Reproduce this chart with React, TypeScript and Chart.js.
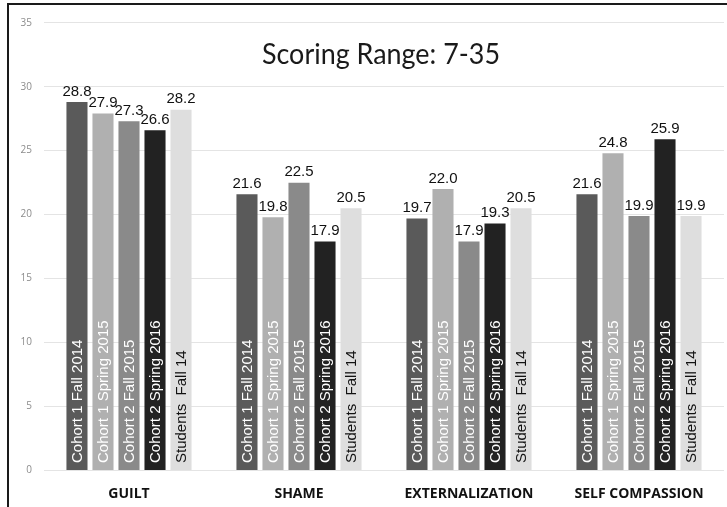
import React, { useEffect, useRef } from "react";
import { Chart, registerables } from "chart.js";

Chart.register(...registerables);

const categories = ["GUILT", "SHAME", "EXTERNALIZATION", "SELF COMPASSION"];
const seriesNames = [
  "Cohort 1 Fall 2014",
  "Cohort 1 Spring 2015",
  "Cohort 2 Fall 2015",
  "Cohort 2 Spring 2016",
  "Students  Fall 14",
];
const cohort1Fall2014 = [28.8, 21.6, 19.7, 21.6];
const cohort1Spring2015 = [27.9, 19.8, 22.0, 24.8];
const cohort2Fall2015 = [27.3, 22.5, 17.9, 19.9];
const cohort2Spring2016 = [26.6, 17.9, 19.3, 25.9];
const studentsFall14 = [28.2, 20.5, 20.5, 19.9];
const seriesValues = [
  cohort1Fall2014,
  cohort1Spring2015,
  cohort2Fall2015,
  cohort2Spring2016,
  studentsFall14,
];
const barColors = ["#5a5a5a", "#b0b0b0", "#8a8a8a", "#222222", "#dedede"];
const nameColors = ["#ffffff", "#ffffff", "#ffffff", "#ffffff", "#111111"];
const titleText = "Scoring Range: 7-35";

// Writes each series name vertically inside its bar, plus the value above it.
const barTextPlugin = {
  id: "barText",
  afterDatasetsDraw(chart: any) {
    const ctx = chart.ctx;
    chart.data.datasets.forEach((ds: any, di: number) => {
      const meta = chart.getDatasetMeta(di);
      meta.data.forEach((bar: any, i: number) => {
        const v = ds.data[i];
        // value on top
        ctx.save();
        ctx.font = "15px 'Liberation Sans', Arial, sans-serif";
        ctx.fillStyle = "#111";
        ctx.textAlign = "center";
        ctx.textBaseline = "bottom";
        ctx.fillText(v.toFixed(1), bar.x, bar.y - 3);
        ctx.restore();
        // series name inside the bar
        ctx.save();
        ctx.translate(bar.x, bar.base - 7);
        ctx.rotate(-Math.PI / 2);
        ctx.font = "15px 'Liberation Sans', Arial, sans-serif";
        ctx.fillStyle = nameColors[di];
        ctx.textAlign = "left";
        ctx.textBaseline = "middle";
        ctx.fillText(seriesNames[di], 0, 1);
        ctx.restore();
      });
    });
  },
};

// Title text placed inside the plot area.
const innerTitlePlugin = {
  id: "innerTitle",
  afterDraw(chart: any) {
    const ctx = chart.ctx;
    const { left, right } = chart.chartArea;
    const y = chart.scales.y.getPixelForValue(31.8);
    ctx.save();
    ctx.font = "28px Lato, 'Open Sans', sans-serif";
    ctx.fillStyle = "#1a1a1a";
    ctx.textAlign = "center";
    ctx.textBaseline = "alphabetic";
    ctx.fillText(titleText, (left + right) / 2 - 3, y, 238);
    ctx.restore();
  },
};

export default function App() {
  const canvasRef = useRef<HTMLCanvasElement | null>(null);

  useEffect(() => {
    if (!canvasRef.current) return;
    const chart = new Chart(canvasRef.current, {
      type: "bar",
      data: {
        labels: categories,
        datasets: seriesValues.map((vals, i) => ({
          label: seriesNames[i],
          data: vals,
          backgroundColor: barColors[i],
          borderWidth: 0,
          categoryPercentage: 0.765,
          barPercentage: 0.81,
        })),
      },
      options: {
        animation: false,
        responsive: false,
        maintainAspectRatio: false,
        layout: { padding: { top: 22.7, right: 3, left: 0, bottom: 0 } },
        plugins: {
          legend: { display: false },
          title: { display: false },
          tooltip: { enabled: false },
        },
        scales: {
          x: {
            grid: { display: false, drawTicks: false },
            border: { display: false },
            ticks: {
              color: "#111",
              padding: 15,
              font: { family: "'Open Sans', sans-serif", size: 14, weight: "bold" },
            },
            afterFit(scale: any) {
              scale.height = 36.5;
            },
          },
          y: {
            min: 0,
            max: 35,
            ticks: {
              stepSize: 5,
              color: "#8c8c8c",
              padding: 12,
              font: { family: "'Open Sans', sans-serif", size: 10 },
            },
            grid: { color: "#e4e4e4", lineWidth: 1, drawTicks: false },
            border: { display: false },
            afterFit(scale: any) {
              scale.width = 44;
            },
          },
        },
      },
      plugins: [barTextPlugin, innerTitlePlugin],
    });
    return () => chart.destroy();
  }, []);

  return (
    <div
      style={{
        position: "fixed",
        left: 0,
        top: 0,
        width: 727,
        height: 507,
        background: "#fff",
        overflow: "hidden",
      }}
    >
      <canvas ref={canvasRef} width={727} height={507} style={{ display: "block" }} />
      <div
        style={{
          position: "absolute",
          left: 7,
          top: 3,
          width: 740,
          height: 520,
          borderLeft: "2px solid #1a1a1a",
          borderTop: "2px solid #1a1a1a",
          pointerEvents: "none",
        }}
      />
    </div>
  );
}
